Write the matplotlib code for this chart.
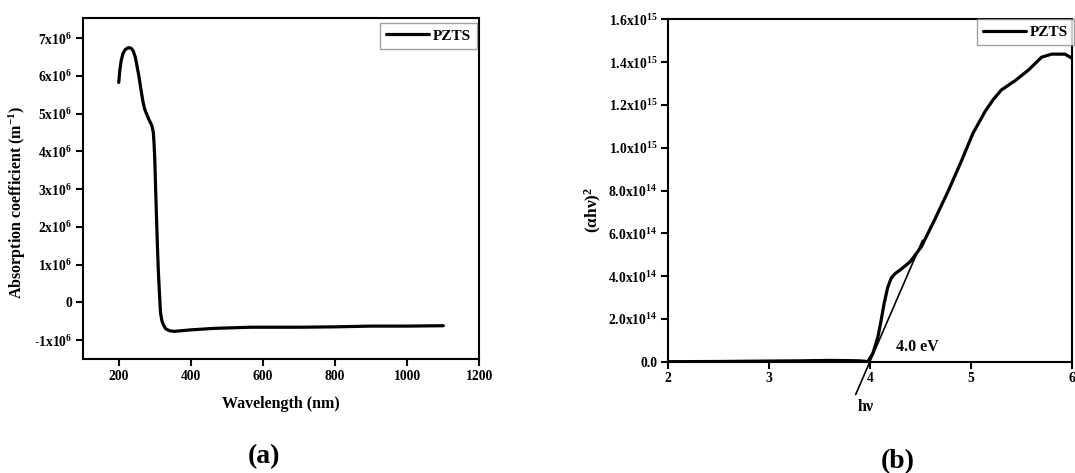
import matplotlib
matplotlib.use("Agg")
import matplotlib.pyplot as plt
import numpy as np

# ---- data -------------------------------------------------------------
# (a) absorption coefficient vs wavelength (values in units of 1e6 m^-1)
wavelength_nm = [200, 203, 207, 212, 218, 226, 234, 240, 246, 251, 256, 262,
                 267, 272, 280, 287, 292, 296, 298, 300, 302, 305, 308, 310,
                 312, 314, 316, 320, 324, 330, 340, 353, 400, 465, 567, 700,
                 800, 900, 1000, 1100]
absorption_1e6 = [5.83, 6.15, 6.42, 6.60, 6.70, 6.75, 6.74, 6.67, 6.50, 6.25,
                  5.99, 5.62, 5.33, 5.12, 4.93, 4.78, 4.68, 4.50, 4.20, 3.78,
                  3.10, 2.18, 1.30, 0.80, 0.42, 0.05, -0.29, -0.50, -0.60,
                  -0.70, -0.75, -0.77, -0.73, -0.69, -0.66, -0.66, -0.65,
                  -0.63, -0.63, -0.62]

# (b) Tauc plot (alpha*h*nu)^2 vs photon energy (values in units of 1e15)
energy_ev = [2.0, 2.5, 3.0, 3.3, 3.6, 3.8, 3.9, 3.95, 3.98, 4.03, 4.08, 4.11,
             4.14, 4.175, 4.21, 4.25, 4.30, 4.40, 4.51, 4.64, 4.78, 4.91,
             5.02, 5.14, 5.22, 5.30, 5.44, 5.57, 5.70, 5.80, 5.93, 6.0]
tauc_1e15 = [0.0, 0.001, 0.003, 0.004, 0.006, 0.005, 0.004, 0.002, 0.0, 0.04,
             0.117, 0.19, 0.27, 0.345, 0.390, 0.412, 0.429, 0.468, 0.538,
             0.663, 0.803, 0.943, 1.068, 1.170, 1.225, 1.270, 1.315, 1.364,
             1.424, 1.438, 1.438, 1.419]

band_gap_ev = 4.0            # extrapolated intercept of the linear fit
fit_slope_1e15 = 1.09        # slope of the linear region, 1e15 per eV
fit_range_ev = [3.86, 4.52]

a_xticks = [200, 400, 600, 800, 1000, 1200]
a_yticks = [-1e6, 0, 1e6, 2e6, 3e6, 4e6, 5e6, 6e6, 7e6]
a_yticklabels = [r"-1x10$^{6}$", "0", r"1x10$^{6}$", r"2x10$^{6}$",
                 r"3x10$^{6}$", r"4x10$^{6}$", r"5x10$^{6}$", r"6x10$^{6}$",
                 r"7x10$^{6}$"]
b_xticks = [2, 3, 4, 5, 6]
b_yticks = [0, 0.2e15, 0.4e15, 0.6e15, 0.8e15, 1.0e15, 1.2e15, 1.4e15, 1.6e15]
b_yticklabels = ["0.0", r"2.0x10$^{14}$", r"4.0x10$^{14}$", r"6.0x10$^{14}$",
                 r"8.0x10$^{14}$", r"1.0x10$^{15}$", r"1.2x10$^{15}$",
                 r"1.4x10$^{15}$", r"1.6x10$^{15}$"]

# ---- style ------------------------------------------------------------
plt.rcParams["font.family"] = ["Liberation Serif"]
plt.rcParams["font.weight"] = "bold"
plt.rcParams["mathtext.fontset"] = "custom"
plt.rcParams["mathtext.rm"] = "Liberation Serif:bold"
plt.rcParams["mathtext.it"] = "Liberation Serif:bold"
plt.rcParams["mathtext.bf"] = "Liberation Serif:bold"
plt.rcParams["mathtext.default"] = "rm"

fig = plt.figure(figsize=(10.75, 4.73), dpi=100)
ax1 = fig.add_axes([0.0769, 0.2404, 0.4459 - 0.0769, 0.9613 - 0.2404])
ax2 = fig.add_axes([0.6212, 0.2353, 0.9972 - 0.6212, 0.9588 - 0.2353])


def style_axes(ax):
    for sp in ax.spines.values():
        sp.set_linewidth(1.5)
    ax.tick_params(direction="out", length=5, width=1.5, labelsize=9.8,
                   pad=2.5)
    for lab in ax.get_xticklabels() + ax.get_yticklabels():
        lab.set_fontweight("bold")


# ---- (a) --------------------------------------------------------------
ax1.plot(wavelength_nm, np.array(absorption_1e6) * 1e6, color="black",
         lw=2.3, label="PZTS", solid_capstyle="round")
ax1.set_xlim(100, 1200)
ax1.set_ylim(-1.51e6, 7.53e6)
ax1.set_xticks(a_xticks)
ax1.set_xticklabels([str(t) for t in a_xticks])
ax1.set_yticks(a_yticks)
ax1.set_yticklabels(a_yticklabels)
style_axes(ax1)
ax1.set_xlabel("Wavelength (nm)", fontsize=11.5, fontweight="bold")
ax1.xaxis.set_label_coords(0.5, -0.108)
ax1.set_ylabel(r"Absorption coefficient (m$^{-1}$)", fontsize=11.5,
               fontweight="bold")
ax1.yaxis.set_label_coords(-0.137, 0.461)
leg1 = ax1.legend(loc="upper right", bbox_to_anchor=(0.9934, 0.987),
                  borderaxespad=0, fancybox=False, edgecolor="#888888",
                  handlelength=2.8, handletextpad=0.25, borderpad=0.4,
                  prop={"family": "Liberation Serif", "weight": "bold",
                        "size": 11})
leg1.get_frame().set_linewidth(1.0)

# ---- (b) --------------------------------------------------------------
ax2.plot(energy_ev, np.array(tauc_1e15) * 1e15, color="black", lw=2.3,
         label="PZTS", solid_capstyle="round")
fit_x = np.array(fit_range_ev)
fit_y = fit_slope_1e15 * (fit_x - band_gap_ev) * 1e15
ax2.plot(fit_x, fit_y, color="black", lw=1.2, clip_on=False)
ax2.set_xlim(2, 6)
ax2.set_ylim(0, 1.6e15)
ax2.set_xticks(b_xticks)
ax2.set_xticklabels([str(t) for t in b_xticks])
ax2.set_yticks(b_yticks)
ax2.set_yticklabels(b_yticklabels)
style_axes(ax2)
ax2.set_ylabel(r"($\alpha$h$\nu$)$^{2}$", fontsize=12.5, fontweight="bold")
ax2.yaxis.set_label_coords(-0.157, 0.443)
ax2.text(4.26, 0.069e15, f"{band_gap_ev:.1f} eV", fontsize=11.5,
         fontweight="bold", ha="left", va="center")
ax2.text(3.96, -0.132, r"h$\nu$", fontsize=11.5, fontweight="bold",
         ha="center", va="center",
         transform=ax2.get_xaxis_transform())
leg2 = ax2.legend(loc="upper right", bbox_to_anchor=(1.005, 1.0006),
                  borderaxespad=0, fancybox=False, edgecolor="#888888",
                  handlelength=2.8, handletextpad=0.25, borderpad=0.4,
                  prop={"family": "Liberation Serif", "weight": "bold",
                        "size": 11})
leg2.get_frame().set_linewidth(1.0)

# ---- panel letters -----------------------------------------------------
fig.text(0.2456, 0.0345, "(a)", fontsize=20, fontweight="bold",
         ha="center", va="center")
fig.text(0.835, 0.024, "(b)", fontsize=20, fontweight="bold",
         ha="center", va="center")

fig.savefig("out.png", dpi=100)
